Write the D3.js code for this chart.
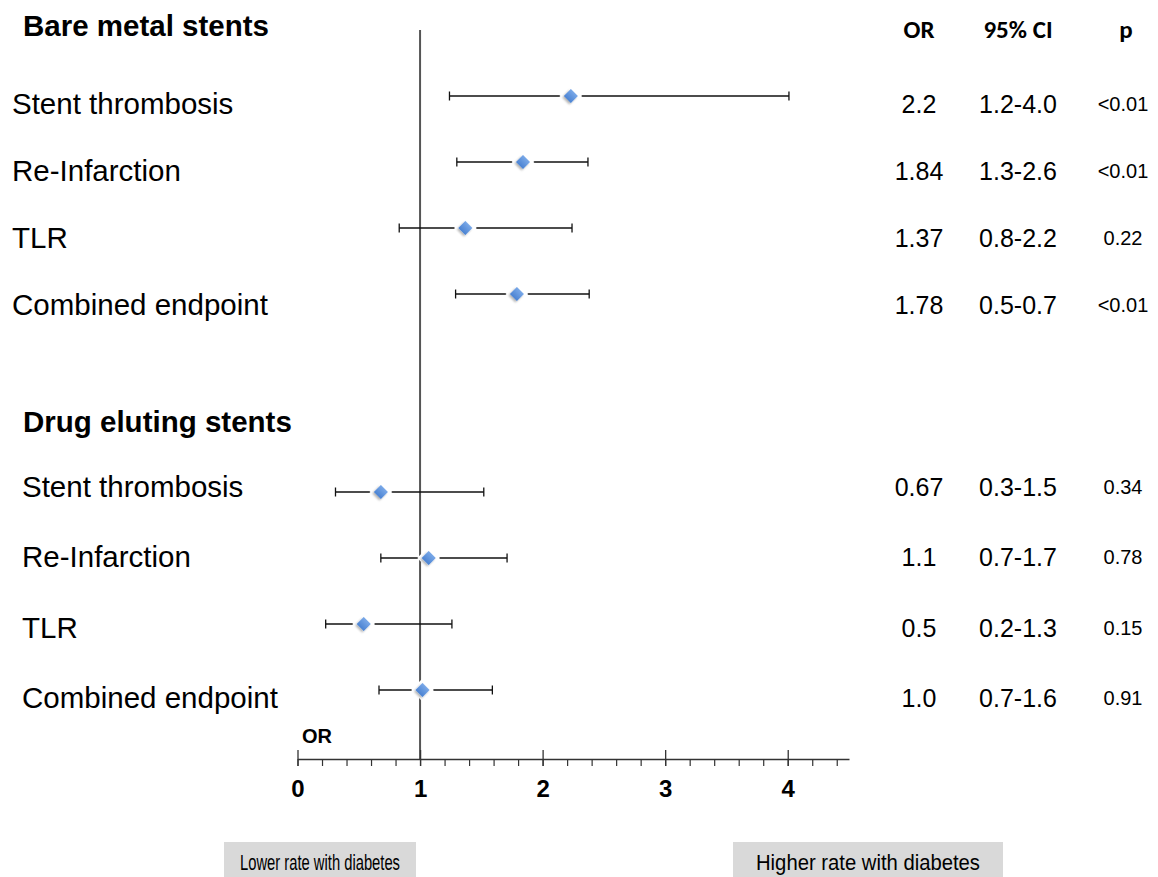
<!DOCTYPE html>
<html>
<head>
<meta charset="utf-8">
<script src="https://cdn.jsdelivr.net/npm/d3@7"></script>
<style>
  html, body { margin: 0; padding: 0; background: #fff; }
  svg { display: block; }
</style>
</head>
<body>
<svg id="chart" width="1158" height="877"></svg>
<script>
// ---------------- data ----------------
const groups = ["Bare metal stents", "Drug eluting stents"];
const outcomes = ["Stent thrombosis", "Re-Infarction", "TLR", "Combined endpoint"];

const bmsOR   = [2.23, 1.84, 1.37, 1.79];
const bmsLow  = [1.24, 1.30, 0.83, 1.29];
const bmsHigh = [4.01, 2.37, 2.24, 2.38];

const desOR   = [0.68, 1.07, 0.54, 1.02];
const desLow  = [0.31, 0.68, 0.23, 0.665];
const desHigh = [1.52, 1.71, 1.26, 1.59];

const bmsOrText = ["2.2", "1.84", "1.37", "1.78"];
const bmsCiText = ["1.2-4.0", "1.3-2.6", "0.8-2.2", "0.5-0.7"];
const bmsPText  = ["<0.01", "<0.01", "0.22", "<0.01"];

const desOrText = ["0.67", "1.1", "0.5", "1.0"];
const desCiText = ["0.3-1.5", "0.7-1.7", "0.2-1.3", "0.7-1.6"];
const desPText  = ["0.34", "0.78", "0.15", "0.91"];

const columnHeaders = ["OR", "95% CI", "p"];
const majorTicks = [0, 1, 2, 3, 4];
const minorTicks = d3.range(0, 4.41, 0.2);
const axisTitle = "OR";
const footLabels = ["Lower rate with diabetes", "Higher rate with diabetes"];

// ---------------- layout ----------------
const svg = d3.select("#chart");
const x = d3.scaleLinear().domain([0, 4.5]).range([297.5, 849]);
const yBar = d3.scaleLinear().domain([0, 9]).range([96, 690]);
const axisY = 759;

const rows = [];
outcomes.forEach((o, i) => rows.push({g: 0, i, label: o, or: bmsOR[i], lo: bmsLow[i], hi: bmsHigh[i],
  orT: bmsOrText[i], ciT: bmsCiText[i], pT: bmsPText[i], slot: i}));
outcomes.forEach((o, i) => rows.push({g: 1, i, label: o, or: desOR[i], lo: desLow[i], hi: desHigh[i],
  orT: desOrText[i], ciT: desCiText[i], pT: desPText[i], slot: 6 + i}));

// text row centers per group
const textY = [
  d3.scaleLinear().domain([0, 3]).range([104, 305]),
  d3.scaleLinear().domain([0, 3]).range([487, 698])
];
const labelX = [12, 22];

const sans = "'Liberation Sans', Arial, Helvetica, sans-serif";

// defs
const defs = svg.append("defs");
const grad = defs.append("linearGradient").attr("id", "dg").attr("x1", 0).attr("y1", 0).attr("x2", 0).attr("y2", 1);
grad.append("stop").attr("offset", "0%").attr("stop-color", "#7aa9e8");
grad.append("stop").attr("offset", "100%").attr("stop-color", "#4a82d2");
const flt = defs.append("filter").attr("id", "sh").attr("x", "-50%").attr("y", "-50%").attr("width", "200%").attr("height", "200%");
flt.append("feDropShadow").attr("dx", 0).attr("dy", 2).attr("stdDeviation", 1.2).attr("flood-color", "#000").attr("flood-opacity", 0.3);

// group headers
svg.selectAll("text.grp").data(groups).join("text")
  .attr("class", "grp")
  .attr("x", 23)
  .attr("y", (d, i) => i === 0 ? 36 : 432)
  .attr("font-family", sans).attr("font-weight", "bold").attr("font-size", 29.5)
  .attr("fill", "#000")
  .text(d => d);

// column headers
const colX = [919, 1018, 1126];
svg.selectAll("text.colh").data(columnHeaders).join("text")
  .attr("class", "colh")
  .attr("x", (d, i) => colX[i])
  .attr("y", 38)
  .attr("text-anchor", "middle")
  .attr("font-family", "Carlito, Lato, 'Open Sans', sans-serif")
  .attr("font-weight", "bold").attr("font-size", 25)
  .text(d => d);

// reference line at OR = 1
svg.append("line")
  .attr("x1", x(1)).attr("x2", x(1))
  .attr("y1", 30).attr("y2", axisY)
  .attr("stroke", "#555").attr("stroke-width", 2);

// axis (minor)
const minorAxis = d3.axisBottom(x).tickValues(minorTicks).tickSizeInner(7).tickSizeOuter(0).tickFormat("");
const gMinor = svg.append("g").attr("transform", `translate(0,${axisY})`).call(minorAxis);
gMinor.select(".domain").attr("stroke", "#333").attr("stroke-width", 1.5);
gMinor.selectAll(".tick line").attr("stroke", "#333").attr("stroke-width", 1.2);

// axis (major)
const majorAxis = d3.axisBottom(x).tickValues(majorTicks).tickSizeInner(7).tickSizeOuter(0).tickPadding(14).tickFormat(d3.format("d"));
const gMajor = svg.append("g").attr("transform", `translate(0,${axisY})`).call(majorAxis);
gMajor.select(".domain").remove();
gMajor.selectAll(".tick line").attr("y1", -9).attr("stroke", "#333").attr("stroke-width", 1.3);
gMajor.selectAll(".tick text")
  .attr("font-family", sans).attr("font-weight", "bold").attr("font-size", 24)
  .attr("fill", "#000");

svg.append("text").attr("x", 302).attr("y", 743)
  .attr("font-family", sans).attr("font-weight", "bold").attr("font-size", 20)
  .text(axisTitle);

// error bars
const bars = svg.append("g");
rows.forEach(r => {
  const y = yBar(r.slot);
  bars.append("line").attr("x1", x(r.lo)).attr("x2", x(r.hi)).attr("y1", y).attr("y2", y)
    .attr("stroke", "#111").attr("stroke-width", 1.3);
  [r.lo, r.hi].forEach(v => bars.append("line")
    .attr("x1", x(v)).attr("x2", x(v)).attr("y1", y - 4.5).attr("y2", y + 4.5)
    .attr("stroke", "#111").attr("stroke-width", 1.3));
});

// diamonds (white halo + blue diamond)
const halo = d3.symbol().type(d3.symbolSquare).size(260);
const dia = d3.symbol().type(d3.symbolSquare).size(100);
svg.append("g").selectAll("path").data(rows).join("path")
  .attr("d", halo)
  .attr("transform", d => `translate(${x(d.or)},${yBar(d.slot)}) rotate(45)`)
  .attr("fill", "#fff");
svg.append("g").selectAll("path").data(rows).join("path")
  .attr("d", dia)
  .attr("transform", d => `translate(${x(d.or)},${yBar(d.slot)}) rotate(45)`)
  .attr("fill", "url(#dg)")
  .attr("filter", "url(#sh)");

// row labels
svg.append("g").selectAll("text").data(rows).join("text")
  .attr("x", d => labelX[d.g])
  .attr("y", d => textY[d.g](d.i) + 10)
  .attr("font-family", sans).attr("font-size", 29.5)
  .text(d => d.label);

// right columns
svg.append("g").selectAll("text").data(rows).join("text")
  .attr("x", colX[0]).attr("y", d => textY[d.g](d.i) + 9)
  .attr("text-anchor", "middle")
  .attr("font-family", sans).attr("font-size", 25)
  .text(d => d.orT);
svg.append("g").selectAll("text").data(rows).join("text")
  .attr("x", colX[1]).attr("y", d => textY[d.g](d.i) + 9)
  .attr("text-anchor", "middle")
  .attr("font-family", sans).attr("font-size", 25)
  .text(d => d.ciT);
svg.append("g").selectAll("text").data(rows).join("text")
  .attr("x", 1123).attr("y", d => textY[d.g](d.i) + 7)
  .attr("text-anchor", "middle")
  .attr("font-family", sans).attr("font-size", 20)
  .text(d => d.pT);

// foot boxes
const boxes = [{x0: 224, x1: 416}, {x0: 733, x1: 1003}];
const foot = svg.append("g");
footLabels.forEach((t, i) => {
  const b = boxes[i];
  foot.append("rect").attr("x", b.x0).attr("y", 842).attr("width", b.x1 - b.x0).attr("height", 40)
    .attr("fill", "#d9d9d9");
  foot.append("text").attr("x", (b.x0 + b.x1) / 2).attr("y", 870)
    .attr("text-anchor", "middle")
    .attr("font-family", sans)
    .attr("font-size", 22)
    .attr("textLength", (b.x1 - b.x0) - (i === 0 ? 32 : 46))
    .attr("lengthAdjust", "spacingAndGlyphs")
    .text(t);
});
</script>
</body>
</html>
